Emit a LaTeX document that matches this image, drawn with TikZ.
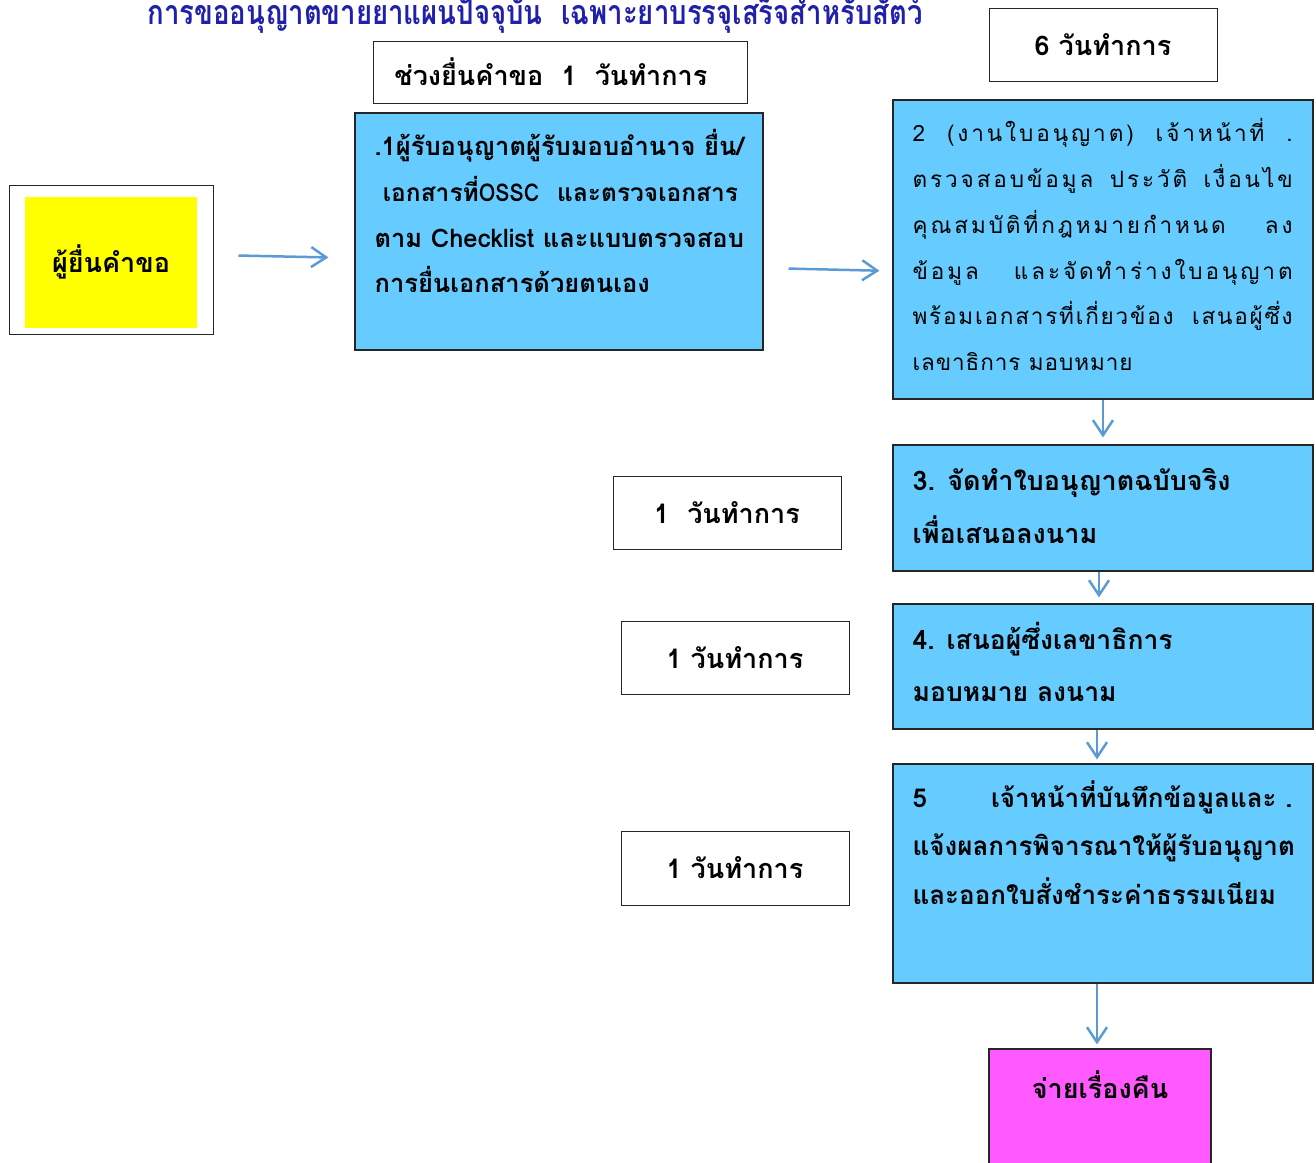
\documentclass[tikz,border=0pt]{standalone}
\usepackage{fontspec}
\newfontfamily\thaifont[Script=Thai]{Loma}
\newfontfamily\thaiwide[Script=Thai,LetterSpace=13]{Loma}
\newfontfamily\thaimid[Script=Thai,LetterSpace=8]{Loma}
\newfontfamily\thaitight[Script=Thai,LetterSpace=4]{Loma}
\newfontfamily\titlefont[Script=Thai,FakeStretch=0.81]{Loma}
\usetikzlibrary{arrows.meta}
\definecolor{stepblue}{RGB}{102,204,255}
\definecolor{flowblue}{RGB}{91,155,213}
\definecolor{titleblue}{RGB}{32,32,170}
\definecolor{endpink}{RGB}{255,90,255}
\definecolor{applyellow}{RGB}{255,255,0}
\newcommand{\stepfont}[2]{\thaifont\bfseries\fontsize{#1}{#2}\selectfont}
\begin{document}
\begin{tikzpicture}[x=1pt, y=-1pt,
    flow/.style = {draw=flowblue, line width=2.5pt, -{Straight Barb[length=15pt,width=20pt,line width=2.5pt]}},
    stepbox/.style = {draw=black!85, line width=1.2pt, fill=stepblue, inner sep=0pt},
    daybox/.style = {draw=black!85, line width=1pt, fill=white, inner sep=0pt, font=\stepfont{27}{30}},
    steptext/.style = {anchor=north west, align=left, inner sep=0pt}]
    \useasboundingbox (0,0) rectangle (1316,1162);

    % title
    \node[font=\titlefont\bfseries\fontsize{34}{36}\selectfont, text=titleblue] (title) at (535,13)
        {การขออนุญาตขายยาแผนปัจจุบัน\ \ เฉพาะยาบรรจุเสร็จสำหรับสัตว์};

    % time labels
    \node[daybox, minimum width=374pt, minimum height=62pt] (dayhead) at (560,72) {ช่วงยื่นคำขอ\ \ 1\ \ วันทำการ\ \ \ };
    \node[daybox, minimum width=228pt, minimum height=73pt] (daysix) at (1103,44.5) {6 วันทำการ};
    \node[daybox, minimum width=228pt, minimum height=73pt] (daythree) at (727,512.5) {1\ \ วันทำการ};
    \node[daybox, minimum width=228pt, minimum height=73pt] (dayfour) at (735,657.5) {1 วันทำการ};
    \node[daybox, minimum width=228pt, minimum height=74pt] (dayfive) at (735,868) {1 วันทำการ};

    % applicant
    \node[draw=black!85, line width=1pt, minimum width=204pt, minimum height=149pt] (applicant) at (111,259.5) {};
    \node[fill=applyellow, minimum width=172pt, minimum height=131pt, font=\stepfont{27}{30}] (applicantfill)
        at (111,262) {ผู้ยื่นคำขอ};

    % steps
    \node[stepbox, minimum width=408pt, minimum height=237pt] (step1) at (559,231.5) {};
    \node[steptext, font=\stepfont{25.5}{45.7}] (step1txt) at ([xshift=20pt,yshift=-17pt]step1.north west)
        {.1ผู้รับอนุญาตผู้รับมอบอำนาจ ยื่น/\\
         {\fontsize{24.5}{45.7}\selectfont\ เอกสารที่\scalebox{0.87}[1]{OSSC}\hspace{18pt}และตรวจเอกสาร}\\
         ตาม Checklist และแบบตรวจสอบ\\
         การยื่นเอกสารด้วยตนเอง};

    \node[stepbox, minimum width=420pt, minimum height=299pt] (step2) at (1103,249.5) {};
    \node[steptext, font=\thaiwide\fontsize{22.5}{45.8}\selectfont] (step2txt)
        at ([xshift=20pt,yshift=-19pt]step2.north west)
        {\makebox[380pt][s]{2 (งานใบอนุญาต) เจ้าหน้าที่ .}\\
         \makebox[380pt][s]{ตรวจสอบข้อมูล ประวัติ เงื่อนไข}\\
         \makebox[380pt][s]{คุณสมบัติที่กฎหมายกำหนด ลง}\\
         \makebox[380pt][s]{ข้อมูล และจัดทำร่างใบอนุญาต}\\
         \makebox[380pt][s]{\thaimid พร้อมเอกสารที่เกี่ยวข้อง เสนอผู้ซึ่ง}\\
         {\thaitight เลขาธิการ มอบหมาย}};

    \node[stepbox, minimum width=420pt, minimum height=126pt] (step3) at (1103,508) {};
    \node[steptext, font=\stepfont{27}{53}] (step3txt) at ([xshift=20pt,yshift=-24pt]step3.north west)
        {3. จัดทำใบอนุญาตฉบับจริง\\
         เพื่อเสนอลงนาม};

    \node[stepbox, minimum width=420pt, minimum height=125pt] (step4) at (1103,666.5) {};
    \node[steptext, font=\stepfont{26.5}{52}] (step4txt) at ([xshift=20pt,yshift=-19pt]step4.north west)
        {4. เสนอผู้ซึ่งเลขาธิการ\\
         มอบหมาย ลงนาม};

    \node[stepbox, minimum width=420pt, minimum height=219pt] (step5) at (1103,873.5) {};
    \node[steptext, font=\stepfont{26}{48.5}] (step5txt) at ([xshift=20pt,yshift=-17pt]step5.north west)
        {5\hspace{64pt}เจ้าหน้าที่บันทึกข้อมูลและ .\\
         แจ้งผลการพิจารณาให้ผู้รับอนุญาต\\
         และออกใบสั่งชำระค่าธรรมเนียม};

    \node[draw=black!85, line width=1.2pt, fill=endpink, minimum width=222pt, minimum height=130pt] (finish) at (1100,1114) {};
    \node[font=\stepfont{27}{30}] (finishtxt) at ([yshift=-36pt]finish.north) {จ่ายเรื่องคืน};

    % connectors
    \draw[flow, shorten <=25pt, shorten >=26pt] ([yshift=4.5pt]applicant.east) -- ([yshift=-26.5pt]step1.west);
    \draw[flow, shorten <=25pt, shorten >=13pt] ([yshift=-36.5pt]step1.east) -- ([yshift=-21.5pt]step2.west);
    \draw[flow, shorten >=7pt] (step2.south) -- (step3.north);
    \draw[flow, shorten >=6pt] ([xshift=-4pt]step3.south) -- ([xshift=-4pt]step4.north);
    \draw[flow, shorten >=4pt] ([xshift=-6pt]step4.south) -- ([xshift=-6pt]step5.north);
    \draw[flow, shorten >=4pt] ([xshift=-6pt]step5.south) -- ([xshift=-3pt]finish.north);
\end{tikzpicture}
\end{document}
